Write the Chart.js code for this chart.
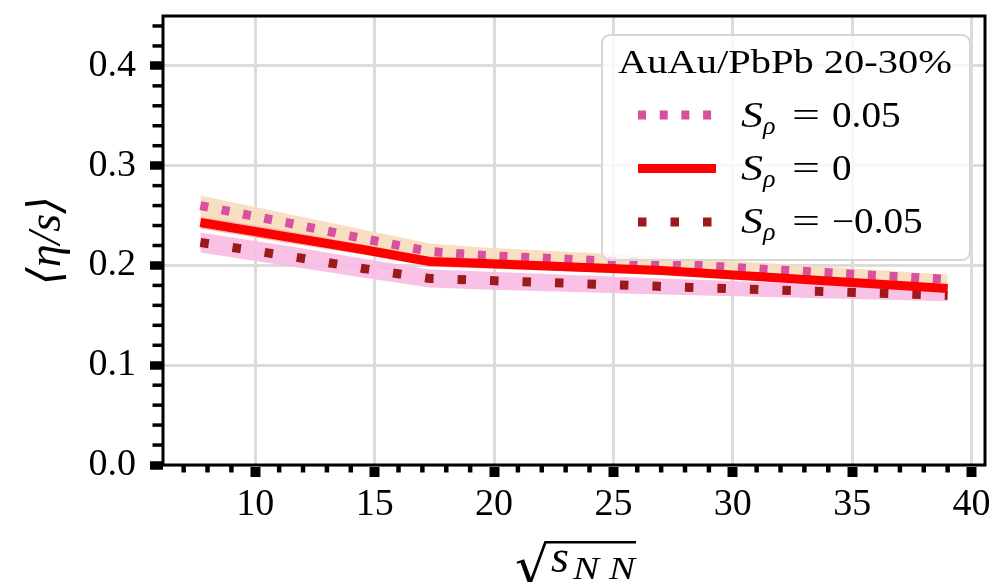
<!DOCTYPE html>
<html>
<head>
<meta charset="utf-8">
<script src="https://cdn.jsdelivr.net/npm/chart.js@4.4.1/dist/chart.umd.min.js"></script>
<style>
  html, body { margin: 0; padding: 0; background: #fff; }
  #wrap { width: 996px; height: 582px; }
</style>
</head>
<body>
<div id="wrap"><canvas id="c" width="996" height="582"></canvas></div>
<script>
// Collision energies (GeV) and averaged shear viscosity over entropy density
const energies   = [7.7, 11.5, 14.5, 17.3, 19.6, 27, 39];
const etaPos     = [0.260, 0.242, 0.227, 0.214, 0.210, 0.202, 0.186];   // S_rho = 0.05
const etaZero    = [0.243, 0.228, 0.216, 0.204, 0.202, 0.195, 0.177];   // S_rho = 0
const etaNeg     = [0.223, 0.209, 0.197, 0.187, 0.185, 0.179, 0.170];   // S_rho = -0.05

// Uncertainty bands
const bandPosHi  = [0.270, 0.251, 0.236, 0.222, 0.218, 0.209, 0.191];
const bandPosLo  = [0.249, 0.233, 0.219, 0.207, 0.204, 0.197, 0.181];
const bandZeroHi = [0.249, 0.234, 0.221, 0.209, 0.207, 0.199, 0.181];
const bandZeroLo = [0.237, 0.222, 0.211, 0.199, 0.197, 0.191, 0.173];
const bandNegHi  = [0.233, 0.219, 0.207, 0.196, 0.194, 0.187, 0.177];
const bandNegLo  = [0.213, 0.199, 0.188, 0.178, 0.176, 0.171, 0.164];

// Axes
const xTicks = [10, 15, 20, 25, 30, 35, 40];
const xTickLabels = ['10', '15', '20', '25', '30', '35', '40'];
const yTicks = [0, 0.1, 0.2, 0.3, 0.4];
const yTickLabels = ['0.0', '0.1', '0.2', '0.3', '0.4'];
const xRange = [6.135, 40.565];
const yRange = [0, 0.45];
const xMinorStep = 1;
const yMinorStep = 0.02;

// Legend
const legendTitle = 'AuAu/PbPb 20-30%';
const legendValues = ['0.05', '0', '\u22120.05'];

const SERIF = '"Liberation Serif", "DejaVu Serif", serif';

const pts = ys => energies.map((x, i) => ({ x: x, y: ys[i] }));

function band(ys, color, target, order) {
  return {
    data: pts(ys), borderWidth: 0, pointRadius: 0, backgroundColor: color,
    fill: target === null ? false : { target: target }, order: order, tension: 0
  };
}

const datasets = [
  band(bandPosHi,  'rgba(248,219,186,0.9)', 1, 12),
  band(bandPosLo,  'rgba(0,0,0,0)', null, 12),
  band(bandNegHi,  'rgba(248,186,226,0.9)', 3, 11),
  band(bandNegLo,  'rgba(0,0,0,0)', null, 11),
  band(bandZeroHi, 'rgba(255,170,160,0.8)', 5, 10),
  band(bandZeroLo, 'rgba(0,0,0,0)', null, 10),
  { label: 'pos', data: pts(etaPos), borderColor: '#d8509f', borderWidth: 9,
    borderDash: [8, 13.7], borderCapStyle: 'butt', pointRadius: 0, fill: false, order: 2 },
  { label: 'neg', data: pts(etaNeg), borderColor: '#9c1a1c', borderWidth: 9,
    borderDash: [8.5, 24], borderCapStyle: 'butt', pointRadius: 0, fill: false, order: 1 },
  { label: 'zero', data: pts(etaZero), borderColor: '#ff0000', borderWidth: 9,
    borderCapStyle: 'butt', pointRadius: 0, fill: false, order: 0 }
];

// text drawn with a horizontal stretch so that it spans a given width
function fillStretched(ctx, text, x, y, width, align) {
  const w = ctx.measureText(text).width;
  ctx.save();
  ctx.textAlign = align || 'left';
  ctx.translate(x, y);
  ctx.scale(width / w, 1);
  ctx.fillText(text, 0, 0);
  ctx.restore();
}

// Frame, minor ticks, x title and legend
const decorations = {
  id: 'decorations',
  afterDraw(chart) {
    const ctx = chart.ctx;
    const a = chart.chartArea;
    const xs = chart.scales.x, ys = chart.scales.y;
    ctx.save();

    // minor ticks
    ctx.strokeStyle = '#000';
    ctx.lineWidth = 4.5;
    for (let v = Math.ceil(xRange[0]); v <= xRange[1]; v += xMinorStep) {
      if (xTicks.includes(v)) continue;
      const px = xs.getPixelForValue(v);
      ctx.beginPath(); ctx.moveTo(px, a.bottom); ctx.lineTo(px, a.bottom + 7.5); ctx.stroke();
    }
    ctx.lineWidth = 3.5;
    for (let k = 1; k * yMinorStep <= yRange[1] + 1e-9; k++) {
      const v = +(k * yMinorStep).toFixed(4);
      if (k % 5 === 0) continue;
      const py = ys.getPixelForValue(v);
      ctx.beginPath(); ctx.moveTo(a.left, py); ctx.lineTo(a.left - 10.5, py); ctx.stroke();
    }

    // frame
    ctx.lineWidth = 3;
    ctx.strokeRect(a.left, a.top, a.right - a.left, a.bottom - a.top);

    // x axis title: sqrt(s_NN)
    ctx.fillStyle = '#000';
    ctx.textBaseline = 'alphabetic';
    ctx.textAlign = 'left';
    ctx.font = '54px "DejaVu Serif", serif';
    const rad = ctx.measureText('\u221A');
    const radTop = 541;
    const radBase = radTop + rad.actualBoundingBoxAscent;
    ctx.fillText('\u221A', 515, radBase);
    const radRight = 515 + rad.actualBoundingBoxRight;
    ctx.lineWidth = 2.5;
    ctx.beginPath(); ctx.moveTo(radRight - 1.5, radTop + 1.2); ctx.lineTo(636, radTop + 1.2); ctx.stroke();
    ctx.font = 'italic 46px ' + SERIF;
    ctx.fillText('s', 551, 572);
    ctx.font = 'italic 32px ' + SERIF;
    fillStretched(ctx, 'N N', 573, 579, 62);

    // legend box
    const lx = 602, ly = 35, lw = 368, lh = 225, r = 8;
    ctx.beginPath();
    ctx.moveTo(lx + r, ly);
    ctx.arcTo(lx + lw, ly, lx + lw, ly + lh, r);
    ctx.arcTo(lx + lw, ly + lh, lx, ly + lh, r);
    ctx.arcTo(lx, ly + lh, lx, ly, r);
    ctx.arcTo(lx, ly, lx + lw, ly, r);
    ctx.closePath();
    ctx.fillStyle = 'rgba(255,255,255,0.8)';
    ctx.fill();
    ctx.strokeStyle = '#d6d6d6';
    ctx.lineWidth = 2;
    ctx.stroke();

    // legend title
    ctx.fillStyle = '#000';
    ctx.font = '34px ' + SERIF;
    fillStretched(ctx, legendTitle, 785, 73, 334, 'center');

    // legend entries
    const entries = [
      { ds: datasets[6], y: 115, base: 127, value: legendValues[0] },
      { ds: datasets[8], y: 168.5, base: 180, value: legendValues[1] },
      { ds: datasets[7], y: 222, base: 233, value: legendValues[2] }
    ];
    entries.forEach(e => {
      ctx.strokeStyle = e.ds.borderColor;
      ctx.lineWidth = e.ds.borderWidth;
      ctx.lineCap = 'butt';
      ctx.setLineDash(e.ds.borderDash || []);
      ctx.lineDashOffset = 0;
      ctx.beginPath(); ctx.moveTo(638, e.y); ctx.lineTo(716, e.y); ctx.stroke();
      ctx.setLineDash([]);
      ctx.fillStyle = '#000';
      ctx.textAlign = 'left';
      ctx.font = 'italic 35px ' + SERIF;
      fillStretched(ctx, 'S', 741, e.base, 22);
      ctx.font = 'italic 26px ' + SERIF;
      ctx.fillText('\u03C1', 763, e.base + 7);
      ctx.font = '35px ' + SERIF;
      fillStretched(ctx, '=', 792, e.base, 28);
      const vw = ctx.measureText(e.value).width;
      fillStretched(ctx, e.value, 832, e.base, vw * 1.12);
    });

    ctx.restore();
  }
};

new Chart(document.getElementById('c'), {
  type: 'line',
  data: { datasets: datasets },
  options: {
    responsive: false,
    devicePixelRatio: 1,
    animation: false,
    events: [],
    layout: { padding: { left: 0, top: 16, right: 11, bottom: 0 } },
    plugins: { legend: { display: false }, tooltip: { enabled: false } },
    scales: {
      x: {
        type: 'linear', min: xRange[0], max: xRange[1],
        afterBuildTicks: s => { s.ticks = xTicks.map(v => ({ value: v })); },
        afterFit: s => { s.height = 117; s.paddingLeft = 0; s.paddingRight = 0; },
        ticks: {
          autoSkip: false, maxRotation: 0, padding: 5, color: '#000',
          font: { family: SERIF, size: 38 },
          callback: v => xTickLabels[xTicks.indexOf(v)]
        },
        grid: { color: '#dcdcdc', lineWidth: 3, tickColor: '#000', tickWidth: 10, tickLength: 12 },
        border: { display: false }
      },
      y: {
        type: 'linear', min: yRange[0], max: yRange[1],
        afterBuildTicks: s => { s.ticks = yTicks.map(v => ({ value: v })); },
        afterFit: s => { s.width = 163; s.paddingTop = 0; s.paddingBottom = 0; },
        ticks: {
          autoSkip: false, padding: 14, color: '#000',
          font: { family: SERIF, size: 38 },
          callback: v => yTickLabels[yTicks.indexOf(v)]
        },
        grid: { color: '#dcdcdc', lineWidth: 3, tickColor: '#000', tickWidth: 8.5, tickLength: 13 },
        border: { display: false },
        title: {
          display: true, text: '\u27E8\u03B7/s\u27E9', color: '#000',
          font: { family: SERIF, size: 46, style: 'italic' },
          padding: { top: 20, bottom: 0 }
        }
      }
    }
  },
  plugins: [decorations]
});
</script>
</body>
</html>
